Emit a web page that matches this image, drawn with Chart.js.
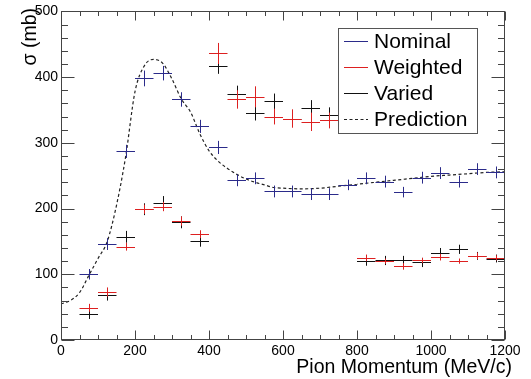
<!DOCTYPE html>
<html>
<head>
<meta charset="utf-8">
<script src="https://cdn.jsdelivr.net/npm/chart.js@4/dist/chart.umd.min.js"></script>
<style>
  html, body { margin: 0; padding: 0; background: #fff; }
  canvas { display: block; }
</style>
</head>
<body>
<canvas id="xsec" width="531" height="379"></canvas>
<script>
/* valores: centros dos bins (MeV/c), seções de choque (mb) e erros */
const binCenters  = [75, 125, 175, 225, 275, 325, 375, 425, 475, 525, 575, 625, 675, 725, 775, 825, 875, 925, 975, 1025, 1075, 1125, 1175];
const nominal     = [100, 146, 287, 398, 406, 366, 325, 293, 243, 246, 226, 226, 222, 222, 236, 246, 241, 225, 247, 254, 241, 260, 255];
const nominalErr  = [8, 9, 10, 12, 11, 11, 10, 10, 9, 9, 9, 9, 9, 9, 8, 9, 9, 8, 9, 9, 9, 9, 9];
const weighted    = [49, 73, 142, 199, 203, 181, 161, 436, 366, 370, 340, 337, 332, 334, null, 125, 120, 112, 121, 126, 120, 128, 125];
const weightedErr = [6, 7, 6, 7, 7, 7, 6, 16, 14, 16, 12, 14, 14, 12, null, 5, 4, 5, 4, 5, 4, 5, 4];
const varied      = [39, 68, 157, 199, 209, 179, 150, 417, 375, 345, 363, 337, 353, 342, null, 120, 121, 121, 118, 133, 138, 128, 124];
const variedErr   = [7, 8, 9, 9, 10, 9, 8, 12, 12, 11, 12, 12, 12, 12, null, 7, 7, 7, 7, 7, 7, 6, 6];
const predX = [0, 25, 50, 75, 100, 125, 150, 175, 200, 225, 250, 275, 300, 325, 350, 375, 400, 425, 450, 475, 500, 525, 550, 575, 600, 650, 700, 750, 800, 850, 900, 950, 1000, 1050, 1100, 1150, 1200];
const predY = [55, 60, 72, 98, 124, 150, 205, 280, 378, 417, 427, 421, 397, 367, 347, 314, 288, 272, 261, 252, 245, 240, 236, 232, 231, 230, 231, 234, 237, 240, 243, 246, 249, 251, 253, 255, 256];
const xTicks = [0, 200, 400, 600, 800, 1000, 1200];
const yTicks = [0, 100, 200, 300, 400, 500];
const legendLabels = ['Nominal', 'Weighted', 'Varied', 'Prediction'];

const BIN_HALF = 25;
const FONT = '"Liberation Sans", Arial, Helvetica, sans-serif';
const C_BLUE = '#2b2b8a', C_RED = '#dd2020', C_BLACK = '#111';

function pts(vals, errs) {
  return binCenters.map((x, i) => ({ x, y: vals[i], e: errs[i] }));
}

/* cruzes estilo ROOT: barra horizontal = largura do bin, vertical = erro */
const crossPlugin = {
  id: 'crosses',
  afterDatasetsDraw(chart) {
    const { ctx, chartArea: a } = chart;
    const sx = chart.scales.x, sy = chart.scales.y;
    ctx.save();
    ctx.beginPath();
    ctx.rect(a.left, a.top, a.right - a.left, a.bottom - a.top);
    ctx.clip();
    [0, 2, 1].forEach(idx => {
      const ds = chart.data.datasets[idx];
      ctx.strokeStyle = ds.borderColor;
      ctx.lineWidth = 1;
      ds.data.forEach(p => {
        if (p.y == null) return;
        const px = Math.round(sx.getPixelForValue(p.x)) + 0.5;
        const py = Math.round(sy.getPixelForValue(p.y)) + 0.5;
        ctx.beginPath();
        ctx.moveTo(sx.getPixelForValue(p.x - BIN_HALF), py);
        ctx.lineTo(sx.getPixelForValue(p.x + BIN_HALF), py);
        ctx.moveTo(px, sy.getPixelForValue(p.y + p.e));
        ctx.lineTo(px, sy.getPixelForValue(p.y - p.e));
        ctx.stroke();
      });
    });
    ctx.restore();
  }
};

/* moldura, ticks internos nos 4 lados, títulos dos eixos e legenda opaca */
const framePlugin = {
  id: 'frame',
  afterDraw(chart) {
    const { ctx, chartArea: a } = chart;
    const sx = chart.scales.x, sy = chart.scales.y;
    ctx.save();
    ctx.strokeStyle = '#444';
    ctx.lineWidth = 1;
    const L = Math.round(a.left) + 0.5, R = Math.round(a.right) - 0.5;
    const T = Math.round(a.top) + 0.5, B = Math.round(a.bottom) - 0.5;
    ctx.strokeRect(L, T, R - L, B - T);
    ctx.beginPath();
    for (let v = 0; v <= 500; v += 20) {
      const len = v % 100 === 0 ? 13 : 6.5;
      const y = Math.round(sy.getPixelForValue(v)) + 0.5;
      ctx.moveTo(L, y); ctx.lineTo(L + len, y);
      ctx.moveTo(R, y); ctx.lineTo(R - len, y);
    }
    for (let v = 0; v <= 1200; v += 50) {
      const len = v % 200 === 0 ? 9 : 4.5;
      const x = Math.round(sx.getPixelForValue(v)) + 0.5;
      ctx.moveTo(x, B); ctx.lineTo(x, B - len);
      ctx.moveTo(x, T); ctx.lineTo(x, T + len);
    }
    ctx.stroke();

    // títulos
    ctx.fillStyle = '#000';
    ctx.font = '19.5px ' + FONT;
    ctx.textAlign = 'right';
    ctx.textBaseline = 'alphabetic';
    ctx.fillText('Pion Momentum (MeV/c)', 512, 373);
    ctx.save();
    ctx.translate(36, 8);
    ctx.rotate(-Math.PI / 2);
    ctx.fillText('σ (mb)', 0, 0);
    ctx.restore();

    // legenda
    const lx = 338.5, ly = 28.5, lw = 139, lh = 105;
    ctx.fillStyle = '#fff';
    ctx.fillRect(lx, ly, lw, lh);
    ctx.strokeStyle = '#555';
    ctx.strokeRect(lx, ly, lw, lh);
    ctx.font = '21px ' + FONT;
    ctx.textAlign = 'left';
    ctx.textBaseline = 'middle';
    chart.data.datasets.forEach((ds, i) => {
      const yy = Math.round(ly + 12 + i * 26) + 0.5;
      ctx.strokeStyle = ds.borderColor;
      ctx.setLineDash(ds.borderDash || []);
      ctx.beginPath();
      ctx.moveTo(344, yy); ctx.lineTo(368, yy);
      ctx.stroke();
      ctx.setLineDash([]);
      ctx.fillStyle = '#000';
      ctx.fillText(legendLabels[i], 374, yy + 1);
    });
    ctx.restore();
  }
};

const tickFont = { family: FONT, size: 14 };

new Chart(document.getElementById('xsec'), {
  type: 'scatter',
  data: {
    datasets: [
      { label: legendLabels[0], data: pts(nominal, nominalErr), borderColor: C_BLUE, pointRadius: 0, showLine: false },
      { label: legendLabels[1], data: pts(weighted, weightedErr), borderColor: C_RED, pointRadius: 0, showLine: false },
      { label: legendLabels[2], data: pts(varied, variedErr), borderColor: C_BLACK, pointRadius: 0, showLine: false },
      {
        label: legendLabels[3],
        type: 'line',
        data: predX.map((x, i) => ({ x, y: predY[i] })),
        borderColor: '#222',
        borderWidth: 1.2,
        borderDash: [3, 2.5],
        pointRadius: 0,
        fill: false,
        cubicInterpolationMode: 'monotone'
      }
    ]
  },
  options: {
    responsive: false,
    animation: false,
    events: [],
    layout: { padding: { top: 8, right: 26, left: 0, bottom: 0 } },
    plugins: { legend: { display: false }, tooltip: { enabled: false } },
    scales: {
      x: {
        type: 'linear', min: 0, max: 1200,
        afterBuildTicks: s => { s.ticks = xTicks.map(value => ({ value })); },
        ticks: { color: '#000', font: tickFont, padding: 3, maxRotation: 0, autoSkip: false, callback: v => String(v) },
        grid: { display: false, drawTicks: false },
        border: { display: false },
        afterFit: s => { s.height = 39; }
      },
      y: {
        type: 'linear', min: 0, max: 500,
        afterBuildTicks: s => { s.ticks = yTicks.map(value => ({ value })); },
        ticks: { color: '#000', font: tickFont, padding: 3, autoSkip: false, callback: v => String(v) },
        grid: { display: false, drawTicks: false },
        border: { display: false },
        afterFit: s => { s.width = 61; }
      }
    }
  },
  plugins: [crossPlugin, framePlugin]
});
</script>
</body>
</html>
